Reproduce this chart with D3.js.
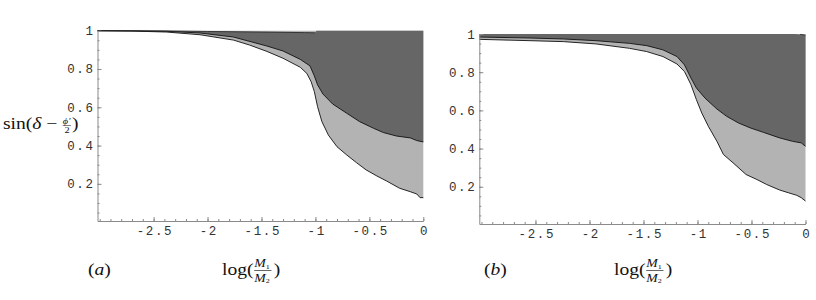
<!DOCTYPE html>
<html>
<head>
<meta charset="utf-8">
<script src="https://cdn.jsdelivr.net/npm/d3@7"></script>
<style>
  body { margin: 0; background: #fff; }
  .tick text { font-family: "Liberation Mono", monospace; font-size: 12.5px; fill: #333; letter-spacing: 1.6px; }
  .domain, .tick line { stroke: #8a8a8a; }
  .lab { font-family: "Liberation Serif", serif; fill: #111; }
</style>
</head>
<body>
<svg id="chart" width="816" height="300"></svg>
<script>
// tick values
const xTicks = [-2.5, -2, -1.5, -1, -0.5, 0]
const yTicks = [0.2, 0.4, 0.6, 0.8, 1]
const panelNames = ['a', 'b']

// panel (a): boundary curves as [log(M1/M2), sin] pairs
const aLower = [[-3.02, 1], [-2.69, 0.998], [-2.38, 0.993], [-2.07, 0.979], [-1.76, 0.951], [-1.61, 0.925],
  [-1.45, 0.892], [-1.30, 0.856], [-1.14, 0.809], [-1.08, 0.777], [-1.04, 0.734], [-1.01, 0.682],
  [-0.98, 0.603], [-0.94, 0.525], [-0.88, 0.455], [-0.80, 0.394], [-0.71, 0.351], [-0.62, 0.311],
  [-0.53, 0.273], [-0.43, 0.241], [-0.34, 0.215], [-0.22, 0.177], [-0.12, 0.159], [-0.06, 0.147],
  [-0.03, 0.128], [0, 0.128]]
const aMiddle = [[-3.02, 1], [-2.69, 0.999], [-2.38, 0.997], [-2.07, 0.988], [-1.76, 0.967], [-1.45, 0.920],
  [-1.30, 0.894], [-1.14, 0.850], [-1.05, 0.816], [-1.01, 0.764], [-0.98, 0.717], [-0.93, 0.669],
  [-0.84, 0.617], [-0.71, 0.569], [-0.59, 0.525], [-0.46, 0.490], [-0.37, 0.468], [-0.25, 0.450],
  [-0.12, 0.440], [-0.06, 0.426], [0, 0.419]]
const aUpper = [[-3.02, 0.9998], [-2.4, 0.999], [-2.0, 0.996], [-1.5, 0.993], [-1.1, 0.990], [-1.0, 0.989],
  [-0.99, 1], [0, 1]]

// panel (b)
const bLower = [[-3.02, 0.972], [-2.55, 0.965], [-2.24, 0.960], [-1.94, 0.948], [-1.63, 0.925], [-1.47, 0.908],
  [-1.32, 0.882], [-1.19, 0.843], [-1.12, 0.803], [-1.06, 0.734], [-1.01, 0.656], [-0.96, 0.586],
  [-0.90, 0.517], [-0.82, 0.438], [-0.76, 0.369], [-0.67, 0.325], [-0.55, 0.264], [-0.45, 0.238],
  [-0.36, 0.212], [-0.24, 0.183], [-0.16, 0.169], [-0.08, 0.155], [-0.04, 0.143], [0, 0.125]]
const bMiddle = [[-3.02, 0.984], [-2.55, 0.979], [-2.24, 0.974], [-1.94, 0.965], [-1.63, 0.951], [-1.47, 0.939],
  [-1.32, 0.917], [-1.19, 0.882], [-1.12, 0.838], [-1.06, 0.769], [-1.01, 0.717], [-0.93, 0.664],
  [-0.82, 0.607], [-0.73, 0.569], [-0.62, 0.534], [-0.51, 0.508], [-0.39, 0.485], [-0.24, 0.456],
  [-0.12, 0.438], [-0.04, 0.430], [0, 0.412]]
const bUpper = [[-3.02, 1], [-0.1, 1], [-0.05, 0.998], [0, 0.994]]

const panels = [
  { name: panelNames[0], lower: aLower, middle: aMiddle, upper: aUpper,
    left: 97.5, right: 423.3, bottom: 221, top: 30.7, yMin: 0.006 },
  { name: panelNames[1], lower: bLower, middle: bMiddle, upper: bUpper,
    left: 479.3, right: 805.5, bottom: 224, top: 34, yMin: 0.005 }
]

const svg = d3.select('#chart')
const fmt = d => String(+d.toFixed(2))

panels.forEach((p, k) => {
  const x = d3.scaleLinear().domain([-3.02, 0]).range([p.left, p.right])
  const y = d3.scaleLinear().domain([p.yMin, 1]).range([p.bottom, p.top])
  const g = svg.append('g').attr('class', 'panel-' + p.name)

  const line = d3.line().x(d => x(d[0])).y(d => y(d[1]))

  // light region: everything above the lower curve
  const lightPoly = p.lower.concat([[0, 1], [-3.02, 1]])
  g.append('path').attr('d', line(lightPoly) + 'Z').attr('fill', '#b3b3b3')

  // dark region between middle and upper curves
  const darkPoly = p.middle.concat(p.upper.slice().reverse())
  g.append('path').attr('d', line(darkPoly) + 'Z').attr('fill', '#666666')

  g.append('path').attr('d', line(p.lower)).attr('fill', 'none').attr('stroke', '#111').attr('stroke-width', 0.9)
  g.append('path').attr('d', line(p.middle)).attr('fill', 'none').attr('stroke', '#111').attr('stroke-width', 0.9)
  g.append('path').attr('d', line.defined(d => d[1] < 1)(p.upper)).attr('fill', 'none').attr('stroke', '#222').attr('stroke-width', 0.8)

  // axes, ticks point inward like the original
  g.append('g').attr('transform', `translate(0,${p.bottom})`)
    .call(d3.axisBottom(x).tickValues(d3.range(-30, 1).map(d => d / 10)).tickSize(-2).tickFormat(''))
    .call(a => a.select('.domain').remove())
  g.append('g').attr('transform', `translate(0,${p.bottom})`)
    .call(d3.axisBottom(x).tickValues(xTicks).tickSizeInner(-4).tickSizeOuter(0).tickPadding(5).tickFormat(fmt))
    .call(a => a.selectAll('text').attr('dx', '0.8px'))

  g.append('g').attr('transform', `translate(${p.left},0)`)
    .call(d3.axisLeft(y).tickValues(d3.range(1, 20).map(d => d / 20)).tickSize(-2).tickFormat(''))
    .call(a => a.select('.domain').remove())
  g.append('g').attr('transform', `translate(${p.left},0)`)
    .call(d3.axisLeft(y).tickValues(yTicks).tickSizeInner(-4).tickSizeOuter(0).tickPadding(3).tickFormat(fmt))

  // bottom labels
  const cx = k === 0 ? 88 : 484
  const lx = k === 0 ? 222 : 614
  const lab = svg.append('g').attr('class', 'lab').attr('transform', `translate(${cx},275) scale(1.15,1)`)
  const t = lab.append('text').attr('font-size', 17)
  t.append('tspan').text('(')
  t.append('tspan').attr('font-style', 'italic').text(p.name)
  t.append('tspan').text(')')

  const lg = svg.append('g').attr('class', 'lab').attr('transform', `translate(${lx},275) scale(1.15,1)`)
  lg.append('text').attr('font-size', 17).text('log(')
  const fr = lg.append('g').attr('transform', 'translate(28,0)')
  fr.append('text').attr('font-size', 12).attr('y', -8).attr('font-style', 'italic').text('M')
    .append('tspan').attr('font-size', 7).attr('font-style', 'normal').attr('dy', 1.5).text('1')
  fr.append('line').attr('x1', 0).attr('x2', 15).attr('y1', -4.5).attr('y2', -4.5).attr('stroke', '#111').attr('stroke-width', 0.6)
  fr.append('text').attr('font-size', 12).attr('y', 7).attr('font-style', 'italic').text('M')
    .append('tspan').attr('font-size', 7).attr('font-style', 'normal').attr('dy', 1.5).text('2')
  lg.append('text').attr('font-size', 17).attr('x', 45).text(')')
})

// y axis label of panel (a)
const yl = svg.append('g').attr('class', 'lab').attr('transform', 'translate(3,129) scale(1.15,1)')
const yt = yl.append('text').attr('font-size', 17)
yt.append('tspan').text('sin(')
yt.append('tspan').attr('font-style', 'italic').text('δ')
yt.append('tspan').text(' − ')
const yf = yl.append('g').attr('transform', 'translate(52,0)')
yf.append('text').attr('font-size', 9).attr('y', -5).attr('font-style', 'italic').text("ϕ'")
yf.append('line').attr('x1', 0).attr('x2', 7).attr('y1', -3.5).attr('y2', -3.5).attr('stroke', '#111').attr('stroke-width', 0.5)
yf.append('text').attr('font-size', 9).attr('x', 1.5).attr('y', 4).text('2')
yl.append('text').attr('font-size', 17).attr('x', 60).text(')')
</script>
</body>
</html>
